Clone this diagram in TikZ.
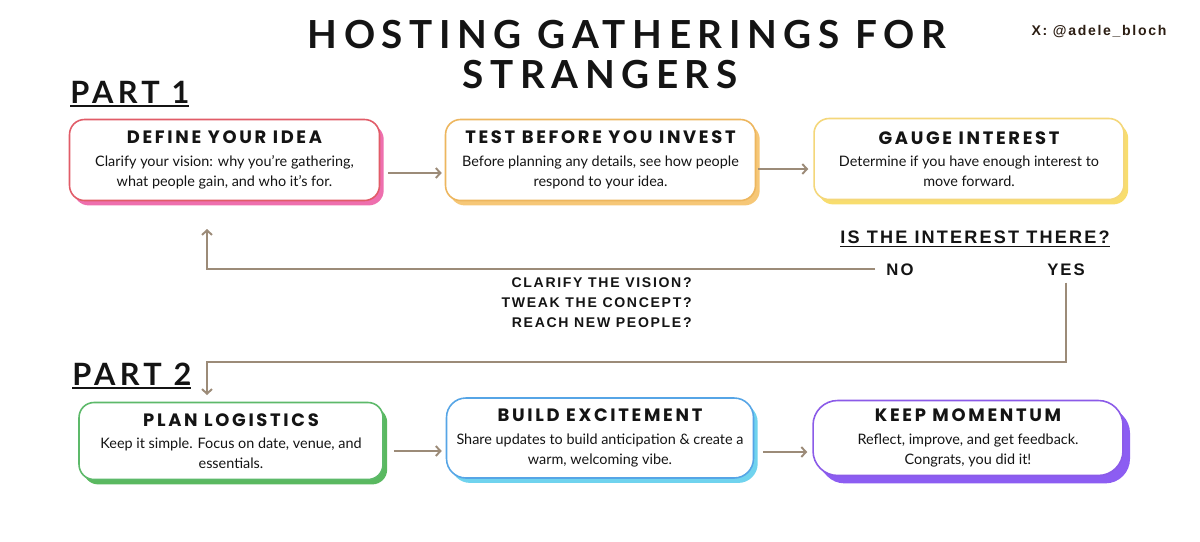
\documentclass[tikz,border=0pt]{standalone}
\usepackage{fontspec}
\usetikzlibrary{calc,arrows.meta,shadows}
\setmainfont{Lato}
\newfontfamily\titolofont[LetterSpace=17]{Lato}
\newfontfamily\capofont[LetterSpace=15]{Poppins}
\newfontfamily\partefont[LetterSpace=14]{Lato}
\newfontfamily\domandafont[LetterSpace=12]{Liberation Sans}
\definecolor{freccia}{HTML}{9C8B78}
\definecolor{nero}{HTML}{141414}
\definecolor{firma}{HTML}{2B1D12}
\definecolor{rossobordo}{HTML}{E15C68}
\definecolor{rosaombra}{HTML}{EE6FAE}
\definecolor{aranciobordo}{HTML}{EDB65E}
\definecolor{aranciombra}{HTML}{F6C777}
\definecolor{giallobordo}{HTML}{F4D77A}
\definecolor{giallombra}{HTML}{F8DD6E}
\definecolor{verdebordo}{HTML}{5DB96A}
\definecolor{verdeombra}{HTML}{5AB960}
\definecolor{blubordo}{HTML}{56A5E6}
\definecolor{azzurrombra}{HTML}{70D3EE}
\definecolor{violabordo}{HTML}{8B5BE8}
\definecolor{violaombra}{HTML}{8C5DF2}
% #1 = spessore della riga, #2 = testo da sottolineare
\newcommand{\sottolinea}[2]{\leavevmode\vtop{\hbox{#2}\kern1.4pt\hrule height #1}}

\begin{document}
\begin{tikzpicture}[x=0.02cm,y=-0.02cm,
  flusso/.style={draw=freccia, line width=1.1pt, -{Straight Barb[length=2.6pt,width=5.6pt]}},
  scatola/.style 2 args={draw=#1, fill=white, line width=0.9pt, rounded corners=8.5pt,
    minimum width=6.2cm, minimum height=1.62cm, align=center, inner sep=0pt, text=nero,
    font=\fontsize{8.2}{11.3}\selectfont,
    general shadow={fill=#2, shadow xshift=2.4pt, shadow yshift=-2.8pt}},
  etichetta/.style={inner sep=0pt, text=nero, font=\domandafont\bfseries\fontsize{8}{11.6}\selectfont}]

  % ---- Sfondo e margini ----------------------------------------------------
  \fill[white] (0,0) rectangle (1200,541);
  \useasboundingbox (0,0) rectangle (1200,541);

  % ---- Titolo e firma --------------------------------------------------------
  \node[anchor=base, inner sep=0pt, text=nero, font=\titolofont\bfseries\fontsize{22}{26}\selectfont]
    (titoloUno) at (627,48) {HOSTING GATHERINGS FOR};
  \node[anchor=base, inner sep=0pt, text=nero, font=\titolofont\bfseries\fontsize{22}{26}\selectfont]
    (titoloDue) at (600,88) {STRANGERS};
  \node[anchor=base, inner sep=0pt, text=firma, font=\domandafont\bfseries\fontsize{8}{10}\selectfont]
    (firma) at (1099,35) {X: @adele\_bloch};

  % ---- Parte 1 ---------------------------------------------------------------
  \node[anchor=base west, inner sep=0pt, text=nero, font=\partefont\bfseries\fontsize{17.5}{20}\selectfont]
    (parteUno) at (70,103) {\sottolinea{1.1pt}{PART 1}};

  \node[scatola={rossobordo}{rosaombra}] (definisci) at (224.5,160)
    {{\capofont\bfseries\fontsize{10.2}{11}\selectfont DEFINE YOUR IDEA}\\[1.6pt]
     Clarify your vision: why you're gathering,\\what people gain, and who it's for.};
  \node[scatola={aranciobordo}{aranciombra}] (prova) at (600.5,160)
    {{\capofont\bfseries\fontsize{10.2}{11}\selectfont TEST BEFORE YOU INVEST}\\[1.6pt]
     Before planning any details, see how people\\respond to your idea.};
  \node[scatola={giallobordo}{giallombra}] (misura) at (969,159)
    {{\capofont\bfseries\fontsize{10.2}{11}\selectfont GAUGE INTEREST}\\[1.6pt]
     Determine if you have enough interest to\\move forward.};

  \draw[flusso] ($(definisci.east)+(8,13)$) -- ($(prova.west)+(-3,13)$);
  \draw[flusso] ($(prova.east)+(2,9)$) -- ($(misura.west)+(-5,10)$);

  % ---- La domanda: si torna indietro o si va avanti ------------------------
  \node[etichetta, font=\domandafont\bfseries\fontsize{10.3}{12}\selectfont, anchor=base]
    (domanda) at (975,243) {\sottolinea{0.8pt}{IS THE INTEREST THERE?}};
  \node[etichetta, font=\domandafont\bfseries\fontsize{9.5}{12}\selectfont, anchor=base]
    (no) at (900,275) {NO};
  \node[etichetta, font=\domandafont\bfseries\fontsize{9.5}{12}\selectfont, anchor=base]
    (si) at (1066,275) {YES};
  \node[etichetta, align=right, anchor=north east] (ritocchi) at (692,277)
    {CLARIFY THE VISION?\\TWEAK THE CONCEPT?\\REACH NEW PEOPLE?};

  \coordinate (ritorno) at (207,229);
  \coordinate (svolta) at (207,362);
  \coordinate (discesa) at (207,395);
  \draw[flusso] (no.west) ++(-11,0) -| (ritorno);
  \draw[flusso] ($(si.south)+(0,7)$) |- (svolta) -- (discesa);

  % ---- Parte 2 ---------------------------------------------------------------
  \node[anchor=base west, inner sep=0pt, text=nero, font=\partefont\bfseries\fontsize{17.5}{20}\selectfont]
    (parteDue) at (72,385) {\sottolinea{1.1pt}{PART 2}};

  \node[scatola={verdebordo}{verdeombra}, minimum width=6.08cm, minimum height=1.54cm]
    (logistica) at (231,441)
    {{\capofont\bfseries\fontsize{10.2}{11}\selectfont PLAN LOGISTICS}\\[1.6pt]
     Keep it simple. Focus on date, venue, and\\essentials.};
  \node[scatola={blubordo}{azzurrombra}, minimum width=6.14cm, minimum height=1.6cm,
    rounded corners=11pt] (attesa) at (600,438)
    {{\capofont\bfseries\fontsize{10.2}{11}\selectfont BUILD EXCITEMENT}\\[1.6pt]
     Share updates to build anticipation \& create a\\warm, welcoming vibe.};
  \node[scatola={violabordo}{violaombra}, minimum width=6.2cm, minimum height=1.5cm,
    rounded corners=14pt, general shadow={fill=violaombra, shadow xshift=4pt, shadow yshift=-4.5pt}]
    (slancio) at (968,438)
    {{\capofont\bfseries\fontsize{10.2}{11}\selectfont KEEP MOMENTUM}\\[1.6pt]
     Reflect, improve, and get feedback.\\Congrats, you did it!};

  \draw[flusso] ($(logistica.east)+(10,10)$) -- ($(attesa.west)+(-4,13)$);
  \draw[flusso] ($(attesa.east)+(9,14)$) -- ($(slancio.west)+(-5,14)$);

\end{tikzpicture}
\end{document}
